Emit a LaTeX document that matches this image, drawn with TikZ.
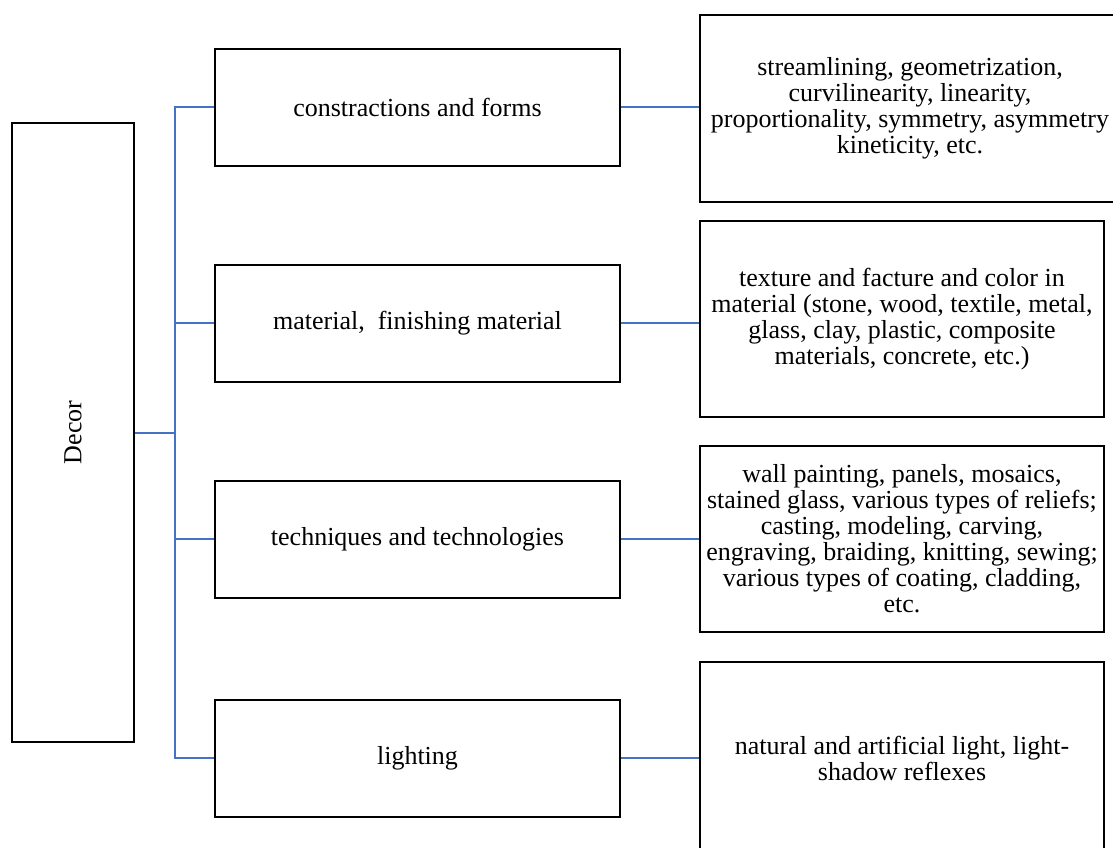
\documentclass[tikz,border=0pt]{standalone}
\usepackage{fontspec}
\setmainfont{Liberation Serif}
\usepackage{graphicx}
\definecolor{linkblue}{HTML}{4472C4}
\tikzset{
  box/.style={draw=black, line width=2pt, inner sep=0pt, align=center,
    font=\fontsize{26}{26}\selectfont},
  link/.style={draw=linkblue, line width=2pt}
}
\begin{document}
\begin{tikzpicture}[x=1pt,y=-1pt]
\useasboundingbox (0,0) rectangle (1113,848);
\clip (0,0) rectangle (1113,848);
% left box
\node[box, minimum width=122pt, minimum height=619pt] (d) at (73,432.5) {\rotatebox{90}{Decor}};
% middle boxes
\node[box, minimum width=405pt, minimum height=117pt] (m1) at (417.5,107.5) {constractions and forms};
\node[box, minimum width=405pt, minimum height=117pt] (m2) at (417.5,323) {material,~ finishing material};
\node[box, minimum width=405pt, minimum height=117pt] (m3) at (417.5,539) {techniques and technologies};
\node[box, minimum width=405pt, minimum height=117pt] (m4) at (417.5,758) {lighting};
% right boxes
\node[box, minimum width=420pt, minimum height=187pt] (r1) at (910,108.5)
  {streamlining, geometrization,\\ curvilinearity, linearity,\\ proportionality, symmetry, asymmetry\\ kineticity, etc.};
\node[box, minimum width=404pt, minimum height=196pt] (r2) at (902,319)
  {texture and facture and color in\\ material (stone, wood, textile, metal,\\ glass, clay, plastic, composite\\ materials, concrete, etc.)};
\node[box, minimum width=404pt, minimum height=186pt] (r3) at (902,539)
  {wall painting, panels, mosaics,\\ stained glass, various types of reliefs;\\ casting, modeling, carving,\\ engraving, braiding, knitting, sewing;\\ various types of coating, cladding,\\ etc.};
\node[box, minimum width=404pt, minimum height=192pt] (r4) at (902,758)
  {natural and artificial light, light-\\ shadow reflexes};
% trunk
\coordinate (t) at (175,432.5);
\draw[link] (m1.west) -- (m1.west -| t) -- (m4.west -| t) -- (m4.west);
\draw[link] (m2.west) -- (m2.west -| t);
\draw[link] (m3.west) -- (m3.west -| t);
\draw[link] (d.east) -- (t);
% right links
\draw[link] (m1.east) -- (m1.east -| r1.west);
\draw[link] (m2.east) -- (m2.east -| r2.west);
\draw[link] (m3.east) -- (m3.east -| r3.west);
\draw[link] (m4.east) -- (m4.east -| r4.west);
\end{tikzpicture}
\end{document}
